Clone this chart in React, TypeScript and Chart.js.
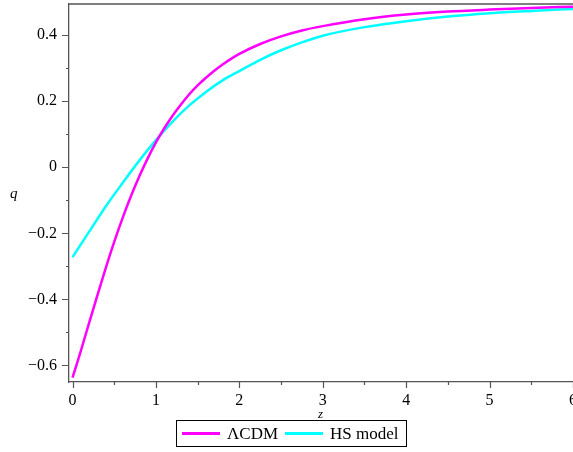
import React, { useEffect, useRef } from "react";
import { Chart, registerables } from "chart.js";

Chart.register(...registerables);

// ---- data ----
const lcdmZ = [0, 0.1, 0.2, 0.3, 0.4, 0.5, 0.6, 0.7, 0.8, 0.9, 1.0, 1.1, 1.2, 1.3, 1.4, 1.5, 1.6, 1.7, 1.8, 1.9, 2.0, 2.25, 2.5, 2.75, 3.0, 3.5, 4.0, 4.5, 5.0, 5.5, 6.0];
const lcdmQ = [-0.637, -0.556, -0.47, -0.386, -0.304, -0.226, -0.154, -0.088, -0.028, 0.026, 0.075, 0.118, 0.156, 0.19, 0.221, 0.248, 0.271, 0.292, 0.311, 0.328, 0.343, 0.373, 0.396, 0.414, 0.427, 0.448, 0.462, 0.471, 0.477, 0.482, 0.486];
const hsZ = [0, 0.2, 0.4, 0.6, 0.8, 1.0, 1.2, 1.4, 1.6, 1.8, 2.0, 2.25, 2.5, 2.75, 3.0, 3.5, 4.0, 4.5, 5.0, 5.5, 6.0];
const hsQ = [-0.272, -0.195, -0.118, -0.048, 0.02, 0.082, 0.138, 0.187, 0.228, 0.263, 0.291, 0.325, 0.354, 0.378, 0.398, 0.424, 0.442, 0.456, 0.466, 0.473, 0.479];
const seriesNames = ["ΛCDM", "HS model"];
const seriesColors = ["#ff00ff", "#00ffff"];
const xTickValues = [0, 1, 2, 3, 4, 5, 6];
const xMinorTicks = [0.5, 1.5, 2.5, 3.5, 4.5, 5.5];
const yTickValues = [-0.6, -0.4, -0.2, 0, 0.2, 0.4];
const yMinorTicks = [-0.5, -0.3, -0.1, 0.1, 0.3];
const xLabel = "z";
const yLabel = "q";

const FONT = "'Liberation Serif', 'Times New Roman', serif";
const AXIS_COLOR = "#555555";

const fmtY = (v: number) => {
  if (Math.abs(v) < 1e-9) return "0";
  const s = Math.abs(v).toFixed(1);
  return v < 0 ? "\u2212" + s : s;
};

const tickPlugin = {
  id: "customTicks",
  afterDraw(chart: any) {
    const { ctx, chartArea, scales } = chart;
    const xs = scales.x;
    const ys = scales.y;
    ctx.save();
    ctx.strokeStyle = AXIS_COLOR;
    ctx.lineWidth = 1.3;
    ctx.beginPath();
    ctx.moveTo(chartArea.left, chartArea.top);
    ctx.lineTo(chartArea.right, chartArea.top);
    ctx.stroke();
    ctx.lineWidth = 1.2;
    const yAxisX = chartArea.left;
    const xAxisY = chartArea.bottom;
    ctx.beginPath();
    yTickValues.forEach((v) => {
      const p = Math.round(ys.getPixelForValue(v)) + 0.5;
      ctx.moveTo(yAxisX - 7, p);
      ctx.lineTo(yAxisX, p);
    });
    yMinorTicks.forEach((v) => {
      const p = Math.round(ys.getPixelForValue(v)) + 0.5;
      ctx.moveTo(yAxisX - 3, p);
      ctx.lineTo(yAxisX, p);
    });
    xTickValues.forEach((v) => {
      const p = Math.round(xs.getPixelForValue(v)) + 0.5;
      ctx.moveTo(p, xAxisY);
      ctx.lineTo(p, xAxisY + 6);
    });
    xMinorTicks.forEach((v) => {
      const p = Math.round(xs.getPixelForValue(v)) + 0.5;
      ctx.moveTo(p, xAxisY);
      ctx.lineTo(p, xAxisY + 3);
    });
    ctx.stroke();
    ctx.restore();
  },
};

export default function App() {
  const canvasRef = useRef<HTMLCanvasElement | null>(null);

  useEffect(() => {
    document.body.style.margin = "0";
    const canvas = canvasRef.current;
    if (!canvas) return;
    const sets = [
      { z: lcdmZ, q: lcdmQ },
      { z: hsZ, q: hsQ },
    ];
    const chart = new Chart(canvas, {
      type: "line",
      data: {
        datasets: sets.map((s, i) => ({
          label: seriesNames[i],
          data: s.z.map((z, k) => ({ x: z, y: s.q[k] })),
          borderColor: seriesColors[i],
          backgroundColor: seriesColors[i],
          borderWidth: 2.5,
          pointRadius: 0,
          cubicInterpolationMode: "monotone" as const,
          fill: false,
        })),
      },
      options: {
        animation: false,
        responsive: false,
        maintainAspectRatio: false,
        layout: { padding: { top: 4, left: 0, right: 0, bottom: 0 } },
        plugins: { legend: { display: false }, tooltip: { enabled: false } },
        scales: {
          x: {
            type: "linear",
            min: -0.042,
            max: 6,
            afterBuildTicks: (s: any) => {
              s.ticks = xTickValues.map((v) => ({ value: v }));
            },
            afterFit: (s: any) => {
              s.height = 70;
              s.paddingLeft = 0;
              s.paddingRight = 0;
            },
            grid: { display: false, drawTicks: false },
            border: { display: true, color: AXIS_COLOR, width: 1.3 },
            ticks: {
              color: "#000",
              padding: 9,
              maxRotation: 0,
              autoSkip: false,
              font: { family: FONT, size: 16 },
              callback: (v: any) => String(v),
            },
          },
          y: {
            type: "linear",
            min: -0.65,
            max: 0.494,
            afterBuildTicks: (s: any) => {
              s.ticks = yTickValues.map((v) => ({ value: v }));
            },
            afterFit: (s: any) => {
              s.width = 69;
              s.paddingTop = 0;
              s.paddingBottom = 0;
            },
            grid: { display: false, drawTicks: false },
            border: { display: true, color: AXIS_COLOR, width: 1.3 },
            ticks: {
              color: "#000",
              padding: 12,
              autoSkip: false,
              font: { family: FONT, size: 16 },
              callback: (v: any) => fmtY(Number(v)),
            },
          },
        },
      },
      plugins: [tickPlugin],
    });
    return () => chart.destroy();
  }, []);

  return (
    <div style={{ position: "absolute", left: 0, top: 0, width: 573, height: 452, background: "#fff", fontFamily: FONT }}>
      <canvas ref={canvasRef} width={573} height={452} style={{ position: "absolute", left: 0, top: 0 }} />
      <span style={{ position: "absolute", left: 10, top: 185, fontStyle: "italic", fontSize: 15, lineHeight: "16px" }}>{yLabel}</span>
      <span style={{ position: "absolute", left: 318, top: 407, fontStyle: "italic", fontSize: 13, lineHeight: "14px" }}>{xLabel}</span>
      <div
        style={{
          position: "absolute",
          left: 176,
          top: 420,
          width: 229,
          height: 25,
          border: "1px solid #000",
          display: "flex",
          alignItems: "center",
          fontSize: 17,
          whiteSpace: "nowrap",
        }}
      >
        {seriesNames.map((n, i) => (
          <React.Fragment key={n}>
            <span style={{ display: "inline-block", width: 38, height: 2.5, background: seriesColors[i], marginLeft: i === 0 ? 5 : 7, marginRight: 7 }} />
            <span>{n}</span>
          </React.Fragment>
        ))}
      </div>
    </div>
  );
}
